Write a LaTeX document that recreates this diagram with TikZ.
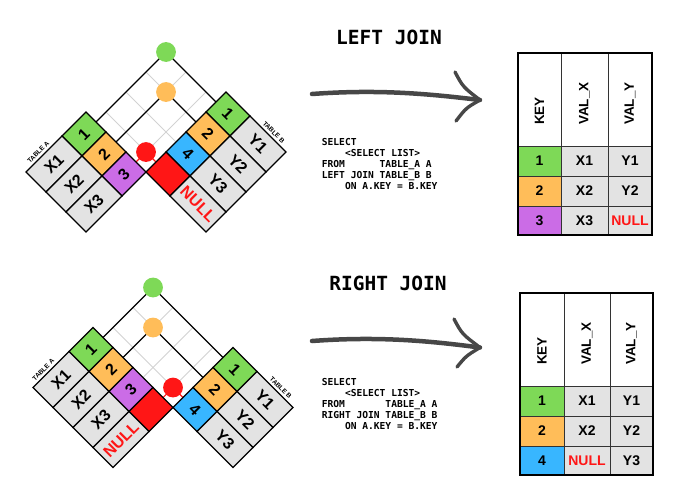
\documentclass[tikz,border=0pt]{standalone}
\usepackage{fontspec}
\setmainfont{Liberation Sans}
\setmonofont{DejaVu Sans Mono}
\usepackage{tikz}
\definecolor{keygreen}{HTML}{7ED957}
\definecolor{keyorange}{HTML}{FFBD59}
\definecolor{keypurple}{HTML}{CB6CE6}
\definecolor{keyblue}{HTML}{38B6FF}
\definecolor{keyred}{HTML}{FF1616}
\definecolor{cellgray}{HTML}{E3E3E3}
\definecolor{gridgray}{HTML}{D2D2D2}
\definecolor{brushgray}{HTML}{474747}
\tikzset{cellline/.style={draw=black, line width=1.3pt},
  gridline/.style={draw=gridgray, line width=0.9pt},
  matchline/.style={draw=black, line width=1.1pt},
  nullline/.style={draw=keyred, line width=1.1pt},
  keydot/.style={circle, inner sep=0pt, minimum size=14pt},
  atext/.style={font=\fontsize{16}{16}\selectfont\bfseries, rotate=45, inner sep=0pt},
  btext/.style={font=\fontsize{16}{16}\selectfont\bfseries, rotate=-45, inner sep=0pt},
  tablabel/.style={font=\fontsize{6.5}{6.5}\selectfont\bfseries, inner sep=0pt, anchor=south},
  jointitle/.style={font=\fontsize{19.5}{20}\selectfont\ttfamily\bfseries},
  sqltext/.style={font=\fontsize{9.6}{11}\selectfont\ttfamily\bfseries, align=left, anchor=north west, inner sep=0pt},
  brush/.style={draw=brushgray, line cap=round, line join=round, line width=4.5pt},
  resline/.style={draw=black!80, line width=0.9pt},
  headtext/.style={font=\fontsize{13.5}{14}\selectfont\bfseries, rotate=90, anchor=west, inner sep=0pt},
  valtext/.style={font=\fontsize{14}{14}\selectfont\bfseries, inner sep=0pt}}

\begin{document}
\begin{tikzpicture}[x=1pt,y=-1pt]
\useasboundingbox (0,0) rectangle (700,496);

% ---------- LEFT JOIN diagram
\begin{scope}[shift={(86,112)}, rotate=-45, scale=1.4142]
  \coordinate (la1) at (10,0);  \coordinate (la2) at (30,0);  \coordinate (la3) at (50,0);
  \coordinate (lb1) at (60,-70); \coordinate (lb2) at (60,-50); \coordinate (lb4) at (60,-10);
  \draw[gridline] (30,-50) -- (30,-70);
  \draw[gridline] (50,-10) -- (50,-70);
  \draw[gridline] (30,-50) -- (10,-50);
  \draw[gridline] (60,-30) -- (10,-30);
  \draw[gridline] (50,-10) -- (10,-10);
  \node[keydot] (dotL1) at (10,-70) {};
  \node[keydot] (dotL2) at (30,-50) {};
  \node[keydot] (dotL3) at (50,-10) {};
  \draw[matchline] (la1) -- (dotL1.center) -- (lb1);
  \draw[matchline] (la2) -- (dotL2.center) -- (lb2);
  \draw[nullline] (la3) -- (dotL3.center) -- (lb4);
  \fill[keygreen] (dotL1) circle (7);
  \fill[keyorange] (dotL2) circle (7);
  \fill[keyred] (dotL3) circle (7);
  % table A
  \draw[cellline, fill=keygreen] (0,0) rectangle (20,24);
  \draw[cellline, fill=keyorange] (20,0) rectangle (40,24);
  \draw[cellline, fill=keypurple] (40,0) rectangle (60,24);
  \draw[cellline, fill=cellgray] (0,24) rectangle (20,60);
  \draw[cellline, fill=cellgray] (20,24) rectangle (40,60);
  \draw[cellline, fill=cellgray] (40,24) rectangle (60,60);
  \node[atext] (lka1) at (10,12) {1};
  \node[atext] (lka2) at (30,12) {2};
  \node[atext] (lka3) at (50,12) {3};
  \node[atext] (lva1) at (10,42) {X1};
  \node[atext] (lva2) at (30,42) {X2};
  \node[atext] (lva3) at (50,42) {X3};
  \node[tablabel, rotate=45] (ltabA) at (-2,44) {TABLE A};
  % table B
  \draw[cellline, fill=keygreen] (60,-80) rectangle (84,-60);
  \draw[cellline, fill=keyorange] (60,-60) rectangle (84,-40);
  \draw[cellline, fill=keyblue] (60,-40) rectangle (84,-20);
  \draw[cellline, fill=keyred] (60,-20) rectangle (84,0);
  \draw[cellline, fill=cellgray] (84,-80) rectangle (120,-60);
  \draw[cellline, fill=cellgray] (84,-60) rectangle (120,-40);
  \draw[cellline, fill=cellgray] (84,-40) rectangle (120,-20);
  \draw[cellline, fill=cellgray] (84,-20) rectangle (120,0);
  \node[btext] (lkb1) at (72,-70) {1};
  \node[btext] (lkb2) at (72,-50) {2};
  \node[btext] (lkb3) at (72,-30) {4};
  \node[btext] (lvb1) at (102,-70) {Y1};
  \node[btext] (lvb2) at (102,-50) {Y2};
  \node[btext] (lvb3) at (102,-30) {Y3};
  \node[btext, text=keyred] (lvb4) at (102,-10) {NULL};
  \node[tablabel, rotate=-45] (ltabB) at (104,-82) {TABLE B};
\end{scope}

% ---------- RIGHT JOIN diagram
\begin{scope}[shift={(93,327.5)}, rotate=-45, scale=1.4142]
  \coordinate (ra1) at (10,0);  \coordinate (ra2) at (30,0);  \coordinate (ra4) at (70,0);
  \coordinate (rb1) at (80,-50); \coordinate (rb2) at (80,-30); \coordinate (rb3) at (80,-10);
  \draw[gridline] (30,-30) -- (30,-50);
  \draw[gridline] (50,0) -- (50,-50);
  \draw[gridline] (70,-10) -- (70,-50);
  \draw[gridline] (30,-30) -- (10,-30);
  \draw[gridline] (70,-10) -- (10,-10);
  \node[keydot] (dotR1) at (10,-50) {};
  \node[keydot] (dotR2) at (30,-30) {};
  \node[keydot] (dotR3) at (70,-10) {};
  \draw[matchline] (ra1) -- (dotR1.center) -- (rb1);
  \draw[matchline] (ra2) -- (dotR2.center) -- (rb2);
  \draw[nullline] (ra4) -- (dotR3.center) -- (rb3);
  \fill[keygreen] (dotR1) circle (7);
  \fill[keyorange] (dotR2) circle (7);
  \fill[keyred] (dotR3) circle (7);
  % table A
  \draw[cellline, fill=keygreen] (0,0) rectangle (20,24);
  \draw[cellline, fill=keyorange] (20,0) rectangle (40,24);
  \draw[cellline, fill=keypurple] (40,0) rectangle (60,24);
  \draw[cellline, fill=keyred] (60,0) rectangle (80,24);
  \draw[cellline, fill=cellgray] (0,24) rectangle (20,60);
  \draw[cellline, fill=cellgray] (20,24) rectangle (40,60);
  \draw[cellline, fill=cellgray] (40,24) rectangle (60,60);
  \draw[cellline, fill=cellgray] (60,24) rectangle (80,60);
  \node[atext] (rka1) at (10,12) {1};
  \node[atext] (rka2) at (30,12) {2};
  \node[atext] (rka3) at (50,12) {3};
  \node[atext] (rva1) at (10,42) {X1};
  \node[atext] (rva2) at (30,42) {X2};
  \node[atext] (rva3) at (50,42) {X3};
  \node[atext, text=keyred] (rva4) at (70,42) {NULL};
  \node[tablabel, rotate=45] (rtabA) at (-2,46) {TABLE A};
  % table B
  \draw[cellline, fill=keygreen] (80,-60) rectangle (104,-40);
  \draw[cellline, fill=keyorange] (80,-40) rectangle (104,-20);
  \draw[cellline, fill=keyblue] (80,-20) rectangle (104,0);
  \draw[cellline, fill=cellgray] (104,-60) rectangle (140,-40);
  \draw[cellline, fill=cellgray] (104,-40) rectangle (140,-20);
  \draw[cellline, fill=cellgray] (104,-20) rectangle (140,0);
  \node[btext] (rkb1) at (92,-50) {1};
  \node[btext] (rkb2) at (92,-30) {2};
  \node[btext] (rkb3) at (92,-10) {4};
  \node[btext] (rvb1) at (122,-50) {Y1};
  \node[btext] (rvb2) at (122,-30) {Y2};
  \node[btext] (rvb3) at (122,-10) {Y3};
  \node[tablabel, rotate=-45] (rtabB) at (124,-62) {TABLE B};
\end{scope}

% ---------- titles, queries and arrows
\node[jointitle] (titleL) at (389,37.5) {LEFT JOIN};
\node[jointitle] (titleR) at (388,283.5) {RIGHT JOIN};
\node[sqltext] (sqlL) at (321.7,138.2) {SELECT\\\ \ \ \ <SELECT LIST>\\FROM\ \ \ \ \ \ TABLE\_A A\\LEFT JOIN TABLE\_B B\\\ \ \ \ ON A.KEY = B.KEY};
\node[sqltext] (sqlR) at (321.7,378.2) {SELECT\\\ \ \ \ <SELECT LIST>\\FROM\ \ \ \ \ \ \ TABLE\_A A\\RIGHT JOIN TABLE\_B B\\\ \ \ \ ON A.KEY = B.KEY};

\coordinate (arrL0) at (312,94);
\coordinate (arrL1) at (480,100);
\draw[brush] (arrL0) .. controls (380,89) and (430,94) .. (arrL1);
\draw[brush, line width=3.4pt] (455,72) .. controls (463,87) .. (arrL1) .. controls (466,108) .. (456,121);
\coordinate (arrR0) at (312,341);
\coordinate (arrR1) at (480,347.5);
\draw[brush] (arrR0) .. controls (380,336) and (430,341) .. (arrR1);
\draw[brush, line width=3.4pt] (454,319) .. controls (462,334) .. (arrR1) .. controls (466,356) .. (457,367);

% ---------- result of LEFT JOIN
\draw[resline] (518,53) rectangle (652,146);
\draw[resline, fill=keygreen] (518,146) rectangle (561,176);
\draw[resline, fill=keyorange] (518,176) rectangle (561,206);
\draw[resline, fill=keypurple] (518,206) rectangle (561,235);
\draw[resline, fill=cellgray] (561,146) rectangle (608,176);
\draw[resline, fill=cellgray] (561,176) rectangle (608,206);
\draw[resline, fill=cellgray] (561,206) rectangle (608,235);
\draw[resline, fill=cellgray] (608,146) rectangle (652,176);
\draw[resline, fill=cellgray] (608,176) rectangle (652,206);
\draw[resline, fill=cellgray] (608,206) rectangle (652,235);
\draw[resline] (561,53) -- (561,146);
\draw[resline] (608,53) -- (608,146);
\draw[line width=2pt] (518,53) rectangle (652,235);
\node[headtext] (hkeyL) at (539.5,125) {KEY};
\node[headtext] (hvxL) at (584.5,125) {VAL\_X};
\node[headtext] (hvyL) at (630,125) {VAL\_Y};
\node[valtext] (rl11) at (539.5,161) {1};
\node[valtext] (rl21) at (539.5,191) {2};
\node[valtext] (rl31) at (539.5,220.5) {3};
\node[valtext] (rl12) at (584.5,161) {X1};
\node[valtext] (rl22) at (584.5,191) {X2};
\node[valtext] (rl32) at (584.5,220.5) {X3};
\node[valtext] (rl13) at (630,161) {Y1};
\node[valtext] (rl23) at (630,191) {Y2};
\node[valtext, text=keyred] (rl33) at (630,220.5) {NULL};

% ---------- result of RIGHT JOIN
\draw[resline] (520,293) rectangle (653,386);
\draw[resline, fill=keygreen] (520,386) rectangle (564,416);
\draw[resline, fill=keyorange] (520,416) rectangle (564,446);
\draw[resline, fill=keyblue] (520,446) rectangle (564,475);
\draw[resline, fill=cellgray] (564,386) rectangle (610,416);
\draw[resline, fill=cellgray] (564,416) rectangle (610,446);
\draw[resline, fill=cellgray] (564,446) rectangle (610,475);
\draw[resline, fill=cellgray] (610,386) rectangle (653,416);
\draw[resline, fill=cellgray] (610,416) rectangle (653,446);
\draw[resline, fill=cellgray] (610,446) rectangle (653,475);
\draw[resline] (564,293) -- (564,386);
\draw[resline] (610,293) -- (610,386);
\draw[line width=2pt] (520,293) rectangle (653,475);
\node[headtext] (hkeyR) at (542,365) {KEY};
\node[headtext] (hvxR) at (587,365) {VAL\_X};
\node[headtext] (hvyR) at (631.5,365) {VAL\_Y};
\node[valtext] (rr11) at (542,401) {1};
\node[valtext] (rr21) at (542,431) {2};
\node[valtext] (rr31) at (542,460.5) {4};
\node[valtext] (rr12) at (587,401) {X1};
\node[valtext] (rr22) at (587,431) {X2};
\node[valtext, text=keyred] (rr32) at (587,460.5) {NULL};
\node[valtext] (rr13) at (631.5,401) {Y1};
\node[valtext] (rr23) at (631.5,431) {Y2};
\node[valtext] (rr33) at (631.5,460.5) {Y3};
\end{tikzpicture}
\end{document}
